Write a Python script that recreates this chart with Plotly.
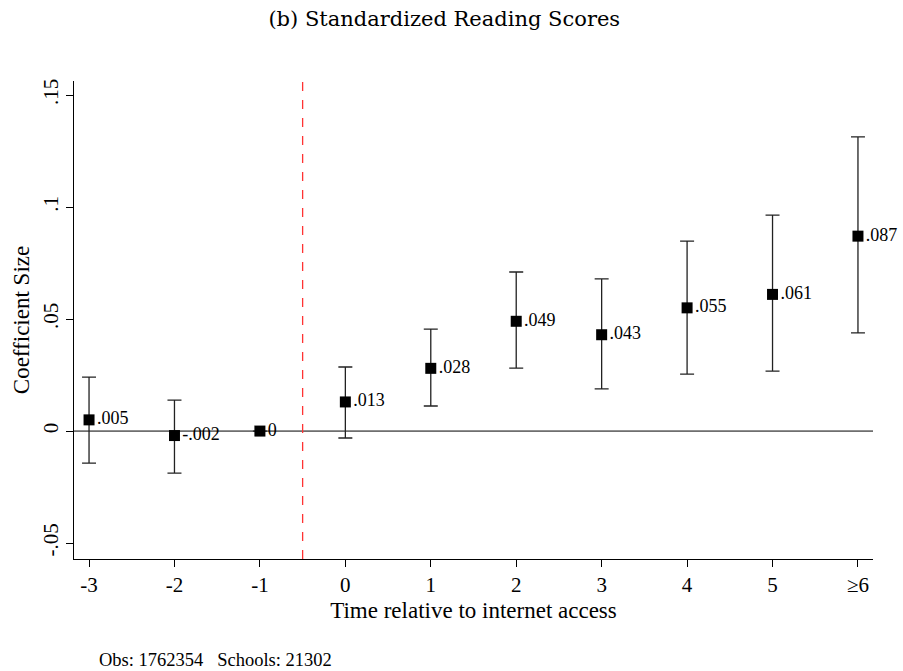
import plotly.graph_objects as go

periods = [-3, -2, -1, 0, 1, 2, 3, 4, 5, 6]
tick_labels = ["-3", "-2", "-1", "0", "1", "2", "3", "4", "5", "≥6"]
coef = [0.005, -0.002, 0.0, 0.013, 0.028, 0.049, 0.043, 0.055, 0.061, 0.087]
ci_high = [0.0241, 0.0138, 0.0, 0.0286, 0.0455, 0.0710, 0.0679, 0.0848, 0.0964, 0.1313]
ci_low = [-0.0143, -0.0188, 0.0, -0.0031, 0.0112, 0.0281, 0.0188, 0.0254, 0.0268, 0.0438]
point_labels = [".005", "-.002", "0", ".013", ".028", ".049", ".043", ".055", ".061", ".087"]
y_ticks = [-0.05, 0, 0.05, 0.1, 0.15]
y_tick_labels = ["-.05", "0", ".05", ".1", ".15"]

err_plus = [h - c for h, c in zip(ci_high, coef)]
err_minus = [c - l for c, l in zip(coef, ci_low)]

FONT = "Liberation Serif"

fig = go.Figure()
fig.add_trace(go.Scatter(
    x=periods, y=coef,
    mode="markers+text",
    marker=dict(symbol="square", size=11, color="black"),
    text=point_labels,
    textposition="middle right",
    textfont=dict(family=FONT, size=18, color="black"),
    error_y=dict(type="data", array=err_plus, arrayminus=err_minus,
                 color="#222222", thickness=1.3, width=7),
    showlegend=False,
    cliponaxis=False,
))

fig.add_shape(type="line", xref="paper", yref="y", x0=0, x1=1, y0=0, y1=0,
              line=dict(color="black", width=1), layer="below")
fig.add_shape(type="line", xref="x", yref="paper", x0=-0.5, x1=-0.5, y0=0, y1=1,
              line=dict(color="#ff3333", width=1.3, dash="dash"), layer="below")

fig.update_layout(
    width=903, height=671,
    margin=dict(l=74, r=30, t=81, b=112),
    paper_bgcolor="white", plot_bgcolor="white",
    font=dict(family=FONT, size=21, color="black"),
    title=dict(text="(b) Standardized Reading Scores", x=0.492, xanchor="center",
               y=0.972, yanchor="middle",
               font=dict(family="DejaVu Serif", size=21)),
    xaxis=dict(
        range=[-3.176, 6.176], tickvals=periods, ticktext=tick_labels,
        showline=True, linecolor="black", linewidth=1.2,
        ticks="outside", ticklen=7, tickcolor="black",
        showgrid=False, zeroline=False,
        title=dict(text="Time relative to internet access", standoff=5,
                   font=dict(family=FONT, size=23)),
        tickfont=dict(family=FONT, size=21),
    ),
    yaxis=dict(
        range=[-0.0571, 0.15625], tickvals=y_ticks, ticktext=y_tick_labels,
        tickangle=-90,
        showline=True, linecolor="black", linewidth=1.2,
        ticks="outside", ticklen=7, tickcolor="black",
        showgrid=False, zeroline=False,
        title=dict(text="Coefficient Size", standoff=2,
                   font=dict(family=FONT, size=23)),
        tickfont=dict(family=FONT, size=21),
    ),
)

fig.add_annotation(text="Obs: 1762354&nbsp;&nbsp; Schools: 21302", xref="paper", yref="paper",
                   x=(97 - 74) / 799, y=-(660 - 559) / 478, xanchor="left", yanchor="middle",
                   showarrow=False, font=dict(family=FONT, size=18.5, color="black"))

fig.write_html("out.html")
